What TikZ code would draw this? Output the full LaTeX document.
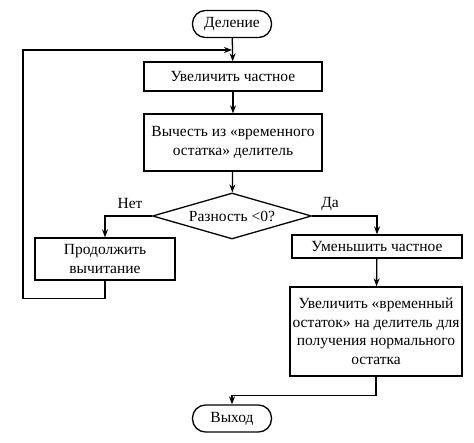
\documentclass[tikz,border=0pt]{standalone}
\usepackage{fontspec}
\setmainfont{Liberation Serif}
\usepackage{tikz}
\usetikzlibrary{arrows.meta, shapes.geometric}

\begin{document}
\begin{tikzpicture}[x=1pt, y=-1pt, line width=1.3pt,
        box/.style={draw, rectangle, inner sep=1pt, align=center, font=\fontsize{15.5}{18.5}\selectfont},
        term/.style={box, rounded corners=13pt, minimum width=79pt, minimum height=27pt},
        cond/.style={draw, diamond, shape aspect=3.4, inner sep=0pt, minimum width=159pt, minimum height=46pt, font=\fontsize{15.5}{18.5}\selectfont},
        arr/.style={-{Stealth[length=8pt, width=6pt]}},
        lbl/.style={font=\fontsize{15.5}{18.5}\selectfont}]
        \useasboundingbox (0,0) rectangle (474,443);

        \node[term] at (232, 24)   (start) {Деление};
        \node[box, minimum width=178pt, minimum height=29pt] at (233, 76.5)   (incq) {Увеличить частное};
        \node[box, minimum width=178pt, minimum height=57pt] at (233, 142.5)   (subd) {Вычесть из «временного\\остатка» делитель};
        \node[cond] at (232, 216)   (diff) {Разность <0?};
        \node[box, minimum width=140pt, minimum height=42pt] at (105, 259)   (cont) {Продолжить\\вычитание};
        \node[box, minimum width=170pt, minimum height=23pt] at (377, 246.5)   (decq) {Уменьшить частное};
        \node[box, minimum width=172pt, minimum height=89pt] at (376, 331.5)   (addb) {Увеличить «временный\\остаток» на делитель для\\получения нормального\\остатка};
        \node[term] at (232, 418.5)   (stop) {Выход};

        \node[lbl] at (130, 204)   (no) {Нет};
        \node[lbl] at (330, 204)   (yes) {Да};
        \coordinate (join) at (232, 50);

        \draw [arr] (start) -- (incq);
        \draw [arr] (incq) -- (subd);
        \draw [arr] (subd) -- (diff);
        \draw [arr] (diff.west) -| (cont.north);
        \draw [arr] (diff.east) -| (decq.north);
        \draw [arr] (decq) -- (addb);
        \draw [arr] (cont.south) -- ++(0,18) -| (23,50) -- (join);
        \draw [arr] (addb.south) -- ++(0,19) -| (stop.north);
    \end{tikzpicture}
\end{document}
